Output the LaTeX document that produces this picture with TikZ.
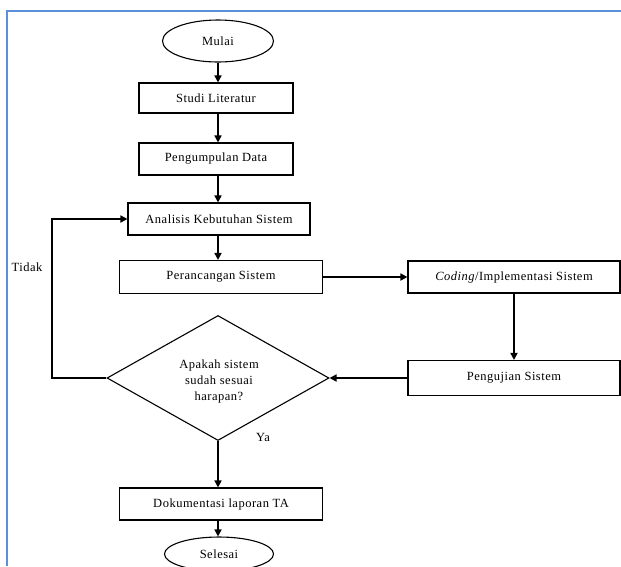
\documentclass[tikz,border=0pt]{standalone}
\usepackage{fontspec}
\setmainfont{Liberation Serif}[LetterSpace=4]
\usetikzlibrary{arrows.meta,shapes.geometric}
\definecolor{framecol}{HTML}{5B8FD9}
\tikzset{
  txt/.style={font=\fontsize{12.5}{16}\selectfont},
  procbox/.style={draw=black, line width=1.1pt, rectangle, inner sep=0pt, txt},
  terminal/.style={draw=black, line width=1.1pt, ellipse, inner sep=0pt, txt},
  decision/.style={draw=black, line width=1.1pt, diamond, inner sep=0pt, txt, align=center},
  flow/.style={line width=1.6pt, -{Triangle[length=7pt,width=7pt]}},
  lbl/.style={txt, inner sep=0pt}
}
\begin{document}
\begin{tikzpicture}[x=1pt,y=-1pt]
\useasboundingbox (0,0) rectangle (621,566);
% page frame
\draw[framecol, line width=1.5pt] (7,566) -- (7,11) -- (621,11);

% main column
\node[terminal, minimum width=111pt, minimum height=42pt] (start) at (218,41) {Mulai};
\node[procbox, minimum width=154pt, minimum height=30pt] (lit) at (216,98) {Studi Literatur};
\node[procbox, minimum width=154pt, minimum height=32pt] (data) at (216,159) {Pengumpulan Data};
\node[procbox, minimum width=182pt, minimum height=32pt] (anal) at (219,219) {Analisis Kebutuhan Sistem};
\node[procbox, minimum width=203pt, minimum height=33pt] (ranc) at (221,277) {Perancangan Sistem};
\node[procbox, minimum width=212pt, minimum height=32pt] (code) at (514,277) {\textit{Coding}/Implementasi Sistem};
\node[procbox, minimum width=212pt, minimum height=35pt] (uji) at (514,378) {Pengujian Sistem};
\node[decision, minimum width=222pt, minimum height=125pt] (dec) at (218,378) {};
\node[txt, align=center, inner sep=0pt] (q) at (219,381) {Apakah sistem\\sudah sesuai\\harapan?};
\node[procbox, minimum width=203pt, minimum height=32pt] (dok) at (221,504) {Dokumentasi laporan TA};
\node[terminal, minimum width=109pt, minimum height=34pt] (end) at (219,554) {Selesai};

\coordinate (loopA) at (52,378);
\coordinate (loopB) at (52,219);

% connectors
\draw[flow] (start.south) -- (start.south |- lit.north);
\draw[flow] (start.south |- lit.south) -- (start.south |- data.north);
\draw[flow] (start.south |- data.south) -- (start.south |- anal.north);
\draw[flow] (start.south |- anal.south) -- (start.south |- ranc.north);
\draw[flow] (ranc.east) -- (code.west);
\draw[flow] (code.south) -- (uji.north);
\draw[flow] (uji.west) -- (dec.east);
\draw[flow] (dec.west) -- (loopA) -- (loopB) -- (anal.west);
\draw[flow] (dec.south) -- (dec.south |- dok.north);
\draw[flow] (dec.south |- dok.south) -- (dec.south |- end.north);

% branch labels
\node[lbl] (tidak) at (27,267) {Tidak};
\node[lbl] (ya) at (263,437) {Ya};
\end{tikzpicture}
\end{document}
